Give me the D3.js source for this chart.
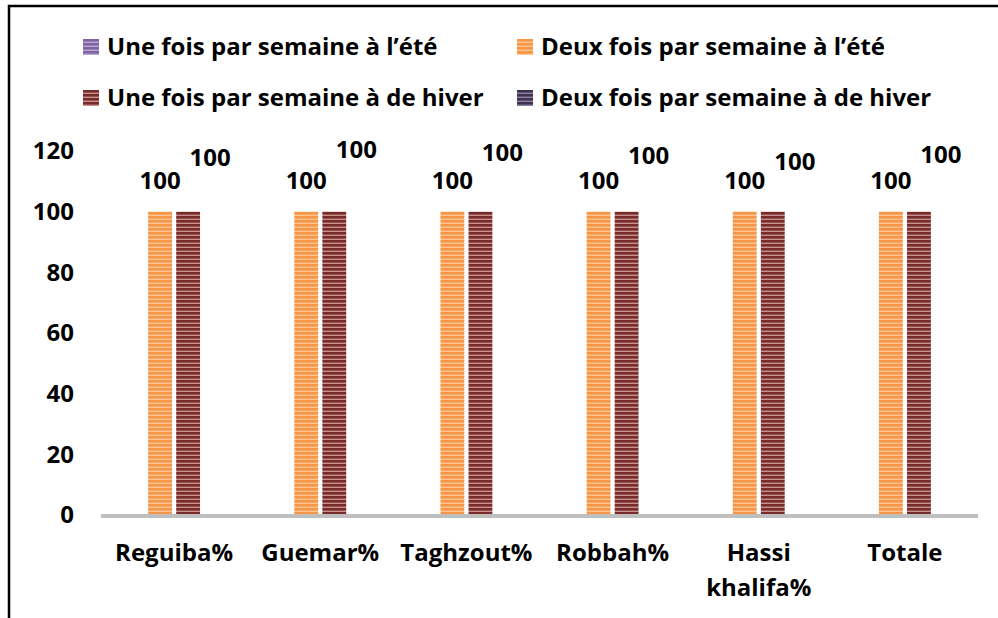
<!DOCTYPE html>
<html>
<head>
<meta charset="utf-8">
<script src="https://cdn.jsdelivr.net/npm/d3@7"></script>
<style>
  body { margin: 0; background: #fff; }
  svg { display: block; font-family: "Open Sans", sans-serif; font-weight: bold; }
</style>
</head>
<body>
<script>
// chart values
const categories = ["Reguiba%", "Guemar%", "Taghzout%", "Robbah%", "Hassi khalifa%", "Totale"];
const seriesNames = [
  "Une fois par semaine à l’été",
  "Deux fois par semaine à l’été",
  "Une fois par semaine à de hiver",
  "Deux fois par semaine à de hiver"
];
const uneEte = [0, 0, 0, 0, 0, 0];
const deuxEte = [100, 100, 100, 100, 100, 100];
const uneHiver = [100, 100, 100, 100, 100, 100];
const deuxHiver = [0, 0, 0, 0, 0, 0];
const yTicks = [0, 20, 40, 60, 80, 100, 120];
// the hiver labels sit higher and are nudged right in the original, a bit different per group
const hiverLabelLift = [54, 62, 59, 56, 50, 57];

const width = 998, height = 618;
const margin = {top: 151, right: 20, bottom: 103, left: 101};
const fontSize = 24;

const stripes = [
  {dark: "#8064a2", light: "#b9a8d1"},
  {dark: "#f79646", light: "#fcc592"},
  {dark: "#772c2a", light: "#c98f8d"},
  {dark: "#403152", light: "#8e83a3"}
];

const values = [uneEte, deuxEte, uneHiver, deuxHiver];
const rows = categories.map((c, i) => ({cat: c, vals: values.map(v => v[i]), i}));

const svg = d3.select("body").append("svg")
    .attr("width", width)
    .attr("height", height);

// striped fills
const defs = svg.append("defs");
stripes.forEach((s, k) => {
  const p = defs.append("pattern")
      .attr("id", "stripe" + k)
      .attr("patternUnits", "userSpaceOnUse")
      .attr("width", 8)
      .attr("height", 4);
  p.append("rect").attr("width", 8).attr("height", 4).attr("fill", s.light);
  p.append("rect").attr("width", 8).attr("height", 2.6).attr("fill", s.dark);
});

// frame (only top and left edges are visible)
svg.append("path")
    .attr("d", `M9,${height}V6H${width}`)
    .attr("fill", "none")
    .attr("stroke", "#000")
    .attr("stroke-width", 2.5);

const x0 = d3.scaleBand()
    .domain(categories)
    .range([margin.left, 978]);

const x1 = d3.scaleBand()
    .domain(d3.range(seriesNames.length))
    .range([0, x0.bandwidth()])
    .paddingInner(0.15)
    .paddingOuter(0.68);

const y = d3.scaleLinear()
    .domain([0, 120])
    .range([height - margin.bottom, margin.top]);

// y axis labels
svg.append("g")
    .attr("transform", `translate(${margin.left},0)`)
    .call(d3.axisLeft(y).tickValues(yTicks).tickSize(0).tickPadding(27))
    .call(g => g.select(".domain").remove())
    .call(g => g.selectAll("text")
        .attr("font-size", fontSize)
        .attr("font-family", "'Open Sans', sans-serif")
        .attr("font-weight", "bold")
        .attr("fill", "#000"));

// bars
const group = svg.append("g")
  .selectAll("g")
  .data(rows)
  .join("g")
    .attr("transform", d => `translate(${x0(d.cat)},0)`);

group.selectAll("rect")
  .data(d => d.vals.map((v, k) => ({v, k})))
  .join("rect")
    .attr("x", d => x1(d.k))
    .attr("y", d => y(d.v))
    .attr("width", x1.bandwidth())
    .attr("height", d => y(0) - y(d.v))
    .attr("fill", d => `url(#stripe${d.k})`);

// value labels
group.selectAll("text")
  .data(d => d.vals.map((v, k) => ({v, k, i: d.i})).filter(e => e.v > 0))
  .join("text")
    .attr("text-anchor", "middle")
    .attr("font-size", fontSize)
    .attr("dy", "0.35em")
    .attr("x", d => d.k === 2 ? x1(d.k) + x1.bandwidth() / 2 + 22 : x1(d.k) + x1.bandwidth() / 2)
    .attr("y", d => d.k === 2 ? y(d.v) - hiverLabelLift[d.i] : y(d.v) - 31)
    .text(d => d.v);

// x axis line
svg.append("line")
    .attr("x1", x0.range()[0])
    .attr("x2", x0.range()[1])
    .attr("y1", y(0) + 1)
    .attr("y2", y(0) + 1)
    .attr("stroke", "#bfbfbf")
    .attr("stroke-width", 4);

// category labels, long ones wrap
svg.append("g")
  .selectAll("text")
  .data(categories)
  .join("text")
    .attr("text-anchor", "middle")
    .attr("font-size", fontSize)
    .attr("x", d => x0(d) + x0.bandwidth() / 2)
    .attr("y", 561)
    .each(function(d) {
      const words = d.length > 12 ? d.split(" ") : [d];
      d3.select(this).selectAll("tspan")
        .data(words)
        .join("tspan")
          .attr("x", x0(d) + x0.bandwidth() / 2)
          .attr("dy", (w, j) => j ? 35 : 0)
          .text(w => w);
    });

// legend, two columns by two rows
const legend = svg.append("g")
  .selectAll("g")
  .data(seriesNames)
  .join("g")
    .attr("transform", (d, k) => `translate(${k % 2 ? 517 : 83},${k < 2 ? 47 : 98})`);

legend.append("rect")
    .attr("y", -8)
    .attr("width", 16)
    .attr("height", 16)
    .attr("fill", (d, k) => `url(#stripe${k})`);

legend.append("text")
    .attr("x", 24)
    .attr("dy", "0.35em")
    .attr("font-size", fontSize)
    .text(d => d);
</script>
</body>
</html>
